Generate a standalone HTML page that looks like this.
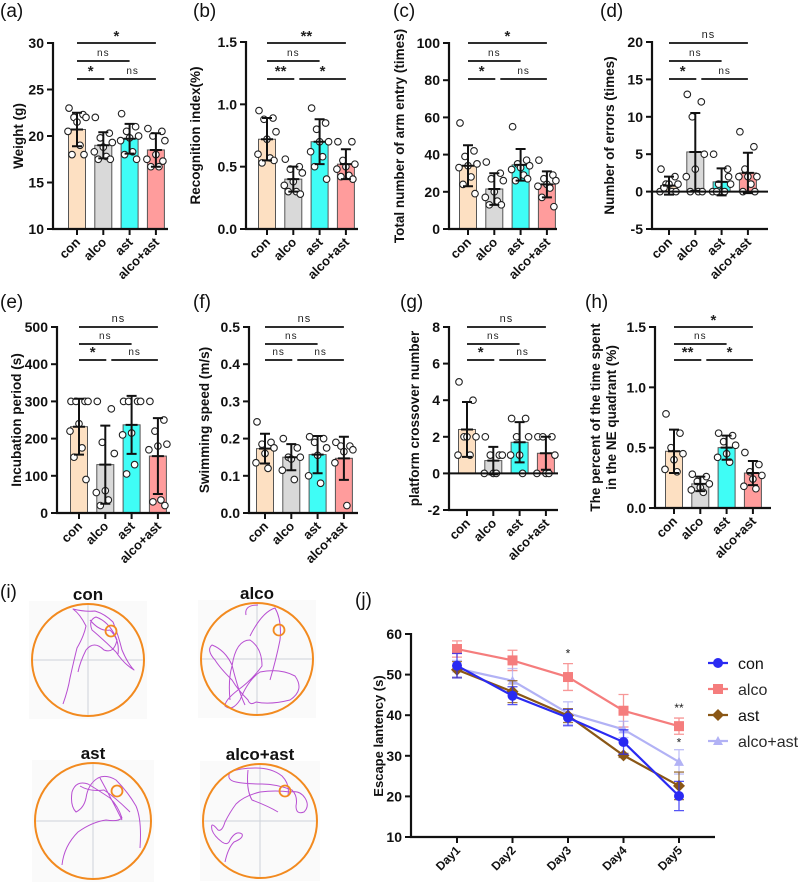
<!DOCTYPE html>
<html><head><meta charset="utf-8"><style>
html,body{margin:0;padding:0;background:#fff}
svg{display:block;font-family:"Liberation Sans",Arial,sans-serif}
</style></head><body>
<svg id="fig" width="800" height="886" viewBox="0 0 800 886" xmlns="http://www.w3.org/2000/svg"></svg>
<script>
const groups=["con","alco","ast","alco+ast"];
const colors=["#fde0c2","#d9d9d9","#3ffdf6","#ff9c9c"];
// panel a
const aMeans=[20.7,19.0,19.7,18.5];
const aSD=[1.8,1.4,1.6,1.8];
const aPts=[[23,22.3,22,22,21.5,20.5,19,18,18],[22,20.3,19.8,19.3,18.8,18.3,17.8,17.5,17.5],[22.4,21,20.5,20,19.8,19.5,18.3,18,17.5],[20.8,20.5,20,19.5,18,17.5,16.7,16.7,17.3]];
const aTicks=[10,15,20,25,30];
const aSig=["*","ns","*","ns"];
// panel b
const bMeans=[0.72,0.40,0.70,0.52];
const bSD=[0.17,0.10,0.18,0.12];
const bPts=[[0.95,0.89,0.88,0.78,0.72,0.6,0.57,0.53,0.55],[0.56,0.5,0.48,0.45,0.38,0.35,0.3,0.3,0.28],[0.97,0.85,0.8,0.7,0.7,0.62,0.58,0.5,0.4],[0.7,0.7,0.55,0.52,0.5,0.48,0.43,0.42,0.4]];
const bTicks=[0,0.5,1.0,1.5];
const bSig=["**","ns","**","*"];
// panel c
const cMeans=[34,21.5,34.5,24];
const cSD=[11,8.5,8.5,7];
const cPts=[[57,42,39,35,34,33,28,24,19],[36,30,27,26,20,17,15,13,13],[55,37,35,34,33,32,29,26,27],[37,29,27,26,24,23,22,17,12]];
const cTicks=[0,20,40,60,80,100];
const cSig=["*","ns","*","ns"];
// panel d
const dMeans=[0.8,5.3,1.3,2.5];
const dSD=[1.2,5.2,1.8,2.7];
const dPts=[[3,2,1,1,1,0,0,0.5,0],[13,12,10,5,3,2,0,0,0],[5,3,1,1,0,0,0,0,2],[8,6,3,2,2,2,1,0,0]];
const dTicks=[-5,0,5,10,15,20];
const dSig=["ns","ns","*","ns"];
// panel e
const eMeans=[232,130,237,153];
const eSD=[75,105,78,102];
const ePts=[[300,300,300,300,240,220,175,150,90],[300,280,190,160,60,55,35,20],[300,300,300,300,215,210,130,105],[300,250,220,185,180,170,35,30,20]];
const eTicks=[0,100,200,300,400,500];
const eSig=["ns","ns","*","ns"];
// panel f
const fMeans=[0.173,0.150,0.157,0.147];
const fSD=[0.04,0.035,0.05,0.058];
const fPts=[[0.245,0.19,0.185,0.175,0.16,0.135,0.12],[0.2,0.175,0.15,0.15,0.145,0.115,0.09],[0.205,0.2,0.19,0.175,0.155,0.1,0.08],[0.19,0.18,0.18,0.17,0.165,0.135,0.02]];
const fTicks=[0,0.1,0.2,0.3,0.4,0.5];
const fSig=["ns","ns","ns","ns"];
// panel g
const gMeans=[2.4,0.7,1.7,1.1];
const gSD=[1.5,0.75,1.1,0.9];
const gPts=[[5,4,2,2,2,1,1],[2,1,1,1,0,0,0],[3,3,2,2,1,1,0],[2,2,2,1,0,0,0]];
const gTicks=[-2,0,2,4,6,8];
const gSig=["ns","ns","*","ns"];
// panel h
const hMeans=[0.47,0.20,0.50,0.29];
const hSD=[0.18,0.06,0.10,0.10];
const hPts=[[0.78,0.62,0.5,0.45,0.4,0.32,0.3],[0.28,0.26,0.22,0.2,0.17,0.15,0.13],[0.62,0.6,0.55,0.52,0.45,0.42,0.38],[0.46,0.36,0.3,0.27,0.24,0.18,0.16]];
const hTicks=[0,0.5,1.0,1.5];
const hSig=["*","ns","**","*"];
// panel j
const days=["Day1","Day2","Day3","Day4","Day5"];
const jSeries=["con","alco","ast","alco+ast"];
const jCon=[52.2,44.8,39.4,33.4,20.1];
const jConErr=[3,2.2,2,3,3.6];
const jAlco=[56.3,53.5,49.4,41.1,37.3];
const jAlcoErr=[2,2.5,3.3,4,2];
const jAst=[51.2,45.8,39.9,30.1,22.6];
const jAstErr=[2,2.7,1.7,0.5,3.4];
const jAA=[51.5,48.5,40.5,36.5,28.5];
const jAAErr=[2,3,2.8,2,3];
const jTicks=[10,20,30,40,50,60];
const jStars=["","","*","","**"];
const jStars2=["","","","","*"];

const NS="http://www.w3.org/2000/svg";
const svg=document.getElementById("fig");
function el(tag,attrs,parent,text){const e=document.createElementNS(NS,tag);for(const k in attrs)e.setAttribute(k,attrs[k]);if(text!==undefined)e.textContent=text;(parent||svg).appendChild(e);return e;}
function fmt(v,ticks){return ticks.some(t=>!Number.isInteger(t))?v.toFixed(1):String(v);}
const jit=[-8,6,-3,9,0,-9,3,-5,7];

function barPanel(c){
  const g=el("g",{});
  
  
  const vmin=c.ticks[0],vmax=c.ticks[c.ticks.length-1];
  const y=v=>c.yBot-(v-vmin)/(vmax-vmin)*(c.yBot-c.yTop);
  const cx=i=>c.x0+c.off+i*26.3;
  const base=y(Math.max(0,vmin));
  for(let i=0;i<4;i++){
    const yt=y(c.means[i]);
    const r=el("rect",{x:cx(i)-8.5,y:Math.min(yt,base),width:17,height:Math.abs(base-yt),fill:colors[i],stroke:"#555","stroke-width":1},g);
    
    
  }
  for(let i=0;i<4;i++){
    c.pts[i].forEach((v,k)=>{
      const p=el("circle",{cx:cx(i)+jit[k%9],cy:y(v),r:3.3,fill:"#fff",stroke:"#222","stroke-width":1.1},g);
      
      
    });
  }
  for(let i=0;i<4;i++){
    const m=c.means[i],s=c.sds[i],x=cx(i);
    const e=el("path",{d:`M${x},${y(m-s)}V${y(m+s)}M${x-5},${y(m-s)}H${x+5}M${x-5},${y(m+s)}H${x+5}M${x-6},${y(m)}H${x+6}`,stroke:"#111","stroke-width":2,fill:"none"},g);
    
    
  }
  const ya=el("path",{d:`M${c.x0},${c.yTop-1}V${c.yBot}`,stroke:"#111","stroke-width":2.2,fill:"none"},g);
  
  
  const xa=el("path",{d:`M${c.x0-1},${c.yBot}H${c.xEnd}`,stroke:"#111","stroke-width":2.2,fill:"none"},g);
  
  
  if(vmin<0){
    const zl=el("path",{d:`M${c.x0},${base}H${c.xEnd}`,stroke:"#111","stroke-width":2,fill:"none"},g);
    
    
  }
  c.ticks.forEach(t=>{
    el("path",{d:`M${c.x0-6},${y(t)}H${c.x0}`,stroke:"#111","stroke-width":2},g);
    const tl=el("text",{x:c.x0-9,y:y(t)+5,"text-anchor":"end","font-size":14,"font-weight":"bold",fill:"#111"},g,fmt(t,c.ticks));
    
    
  });
  for(let i=0;i<4;i++){
    el("path",{d:`M${cx(i)},${c.yBot}V${c.yBot+6}`,stroke:"#111","stroke-width":2},g);
    const xl=el("text",{x:0,y:0,"text-anchor":"end","font-size":13,"font-weight":"bold",fill:"#111",transform:`translate(${cx(i)+4},${c.yBot+14}) rotate(-45)`},g,groups[i]);
    
    
  }
  c.ylabel.forEach((t,k)=>{
    const yl=el("text",{x:0,y:0,"text-anchor":"middle","font-size":13.5,"font-weight":"bold",fill:"#111",transform:`translate(${c.ylx+k*16},${c.yTop+(c.yBot-c.yTop)/2}) rotate(-90)`},g,t);
    
    
  });
  const sy=c.sigY;
  const lines=[[cx(0),cx(3),sy[0]],[cx(0),cx(2),sy[1]],[cx(0),cx(1)+1,sy[2]],[cx(1)+6,cx(3),sy[2]]];
  lines.forEach((L,k)=>{
    el("path",{d:`M${L[0]},${L[2]}H${L[1]}`,stroke:"#111","stroke-width":1.8},g);
    const lab=c.sig[k];const star=lab!=="ns";
    const mx=(L[0]+L[1])/2;
    const t=el("text",{x:mx,y:L[2]-(star?(k===0?2:3):5),"text-anchor":"middle","font-size":star?15:k===0?11:10,"font-weight":star?"bold":"normal","letter-spacing":star?0:1,fill:"#222"},g,lab);
    
    
  });
  const pl=el("text",{x:c.lx,y:c.ly,"font-size":19,fill:"#111"},g,c.letter);
  
  
}
const r1=[43,61,79], r2=[327,344,360];
barPanel({name:"panel-a-weight",x0:53,off:24,xEnd:168,yTop:43,yBot:229,ticks:aTicks,means:aMeans,sds:aSD,pts:aPts,sig:aSig,sigY:r1,ylabel:["Weight (g)"],ylx:23,letter:"(a)",lx:0,ly:17});
barPanel({name:"panel-b-recognition",x0:246,off:21,xEnd:358,yTop:42,yBot:229,ticks:bTicks,means:bMeans,sds:bSD,pts:bPts,sig:bSig,sigY:r1,ylabel:["Recognition index(%)"],ylx:200,letter:"(b)",lx:193,ly:17});
barPanel({name:"panel-c-arm-entry",x0:449,off:19,xEnd:557,yTop:43,yBot:229,ticks:cTicks,means:cMeans,sds:cSD,pts:cPts,sig:cSig,sigY:r1,ylabel:["Total number of arm entry (times)"],ylx:404,letter:"(c)",lx:393,ly:17});
barPanel({name:"panel-d-errors",x0:652,off:17,xEnd:768,yTop:42,yBot:229,ticks:dTicks,means:dMeans,sds:dSD,pts:dPts,sig:dSig,sigY:r1,ylabel:["Number of errors (times)"],ylx:614,letter:"(d)",lx:600,ly:17});
barPanel({name:"panel-e-incubation",x0:57,off:22,xEnd:170,yTop:327,yBot:513,ticks:eTicks,means:eMeans,sds:eSD,pts:ePts,sig:eSig,sigY:r2,ylabel:["Incubation period (s)"],ylx:21,letter:"(e)",lx:0,ly:308});
barPanel({name:"panel-f-speed",x0:249,off:16,xEnd:358,yTop:327,yBot:513,ticks:fTicks,means:fMeans,sds:fSD,pts:fPts,sig:fSig,sigY:r2,ylabel:["Swimming speed  (m/s)"],ylx:209,letter:"(f)",lx:193,ly:308});
barPanel({name:"panel-g-crossover",x0:449,off:18,xEnd:558,yTop:327,yBot:510,ticks:gTicks,means:gMeans,sds:gSD,pts:gPts,sig:gSig,sigY:r2,ylabel:["platform crossover number"],ylx:419,letter:"(g)",lx:400,ly:308});
barPanel({name:"panel-h-ne-quadrant",x0:655,off:19,xEnd:771,yTop:327,yBot:508,ticks:hTicks,means:hMeans,sds:hSD,pts:hPts,sig:hSig,sigY:r2,ylabel:["The percent of the time spent","in the NE quadrant (%)"],ylx:600,letter:"(h)",lx:585,ly:308});

const gi=el("g",{});


const il=el("text",{x:0,y:598,"font-size":19,fill:"#111"},gi,"(i)");


const pools=[
 {t:"con",cx:88,cy:660,r:56,px:111,py:631,tr:"M63,704 Q68,690 70,678 Q74,660 77,648 Q84,636 86,626 Q80,614 73,609 Q85,612 95,611 Q105,614 113,622 Q118,634 122,650 Q128,664 134,670 Q124,664 116,652 Q104,640 92,630 Q88,620 96,617 Q110,622 117,640 Q114,654 104,650 Q94,640 86,650 Q80,662 78,672 M90,620 Q100,632 110,630 Q120,640 118,654"},
 {t:"alco",cx:257,cy:659,r:56,px:279,py:630,tr:"M230,700 Q228,680 232,666 Q236,640 250,640 Q262,648 262,666 Q252,680 238,690 Q225,700 225,706 Q232,712 240,700 Q248,680 260,672 Q280,668 295,676 Q305,690 290,700 Q270,705 256,702 Q250,706 248,700 Q238,690 232,680 Q220,668 215,660 Q206,650 212,645 Q225,650 232,665 Q238,690 245,705 M250,636 Q262,612 275,608 Q282,620 280,640 Q276,660 270,680 M246,615 Q244,605 258,605"},
 {t:"ast",cx:93,cy:821,r:58,px:117,py:791,tr:"M62,865 Q64,846 78,832 Q92,822 106,820 Q118,822 122,818 Q118,806 110,798 Q98,790 88,784 Q76,780 72,792 Q70,806 76,812 Q84,808 86,798 Q88,784 98,778 Q106,774 116,780 Q128,792 136,806 Q142,820 140,848 M100,778 Q112,800 122,820 M80,786 Q90,792 104,790 Q116,798 130,812"},
 {t:"alco+ast",cx:260,cy:821,r:57,px:285,py:791,tr:"M225,862 Q228,848 234,842 Q244,838 242,834 Q236,830 230,840 Q228,846 222,842 Q214,836 212,830 Q210,820 218,830 Q222,832 225,822 Q230,812 236,804 Q244,796 260,792 Q276,790 290,792 Q300,790 305,798 Q310,806 304,812 Q296,815 296,806 Q298,796 292,790 Q276,784 262,784 Q246,784 236,782 Q226,780 230,772 Q240,768 256,768 Q272,768 282,776 Q290,784 288,795 M248,770 Q246,790 252,800 Q268,806 278,812"}
];
pools.forEach(p=>{
  const pg=el("g",{},gi);
  
  
  el("rect",{x:p.cx-p.r-3,y:p.cy-p.r-3,width:2*p.r+6,height:2*p.r+6,fill:"#fafafa"},pg);
  el("path",{d:`M${p.cx-p.r},${p.cy}H${p.cx+p.r}M${p.cx},${p.cy-p.r}V${p.cy+p.r}`,stroke:"#cfd3da","stroke-width":1},pg);
  const tr=el("path",{d:p.tr,stroke:"#b84fd2","stroke-width":1,fill:"none","stroke-linejoin":"round"},pg);
  
  
  el("circle",{cx:p.cx,cy:p.cy,r:p.r,fill:"none",stroke:"#f28a1f","stroke-width":2},pg);
  const pf=el("circle",{cx:p.px,cy:p.py,r:5.5,fill:"none",stroke:"#f28a1f","stroke-width":1.8},pg);
  
  
  const tt=el("text",{x:p.cx,y:p.cy-p.r-4,"text-anchor":"middle","font-size":17,"font-weight":"bold",fill:"#111"},pg,p.t);
  
  
});

const gj=el("g",{});


const jx0=411,jxEnd=715,jyTop=634,jyBot=837;
const jy=v=>jyBot-(v-10)/(60-10)*(jyBot-jyTop);
const jx=i=>457+i*55.5;
const jl=el("text",{x:355,y:606,"font-size":19,fill:"#111"},gj,"(j)");


const jData=[jCon,jAlco,jAst,jAA];
const jErr=[jConErr,jAlcoErr,jAstErr,jAAErr];
const jCol=["#2a2af2","#f47070","#8a5716","#aaaaf4"];
const jOp=[1,0.9,1,0.9];
function marker(s,x,y,p){
  let m;
  if(s===0)m=el("circle",{cx:x,cy:y,r:5,fill:jCol[0]},p);
  else if(s===1)m=el("rect",{x:x-5,y:y-5,width:10,height:10,fill:jCol[1]},p);
  else if(s===2)m=el("path",{d:`M${x},${y-6}L${x+6},${y}L${x},${y+6}L${x-6},${y}Z`,fill:jCol[2]},p);
  else m=el("path",{d:`M${x},${y-5}L${x+5},${y+4}L${x-5},${y+4}Z`,fill:jCol[3]},p);
  
  
}
[1,3,2,0].forEach(s=>{
  const sg=el("g",{opacity:jOp[s]},gj);
  
  
  jData[s].forEach((v,i)=>{
    const x=jx(i),e=jErr[s][i];
    el("path",{d:`M${x},${jy(v-e)}V${jy(v+e)}M${x-5},${jy(v-e)}H${x+5}M${x-5},${jy(v+e)}H${x+5}`,stroke:jCol[s],"stroke-width":1.3,fill:"none",opacity:0.8},sg);
  });
  const ln=el("polyline",{points:jData[s].map((v,i)=>jx(i)+","+jy(v)).join(" "),stroke:jCol[s],"stroke-width":2.2,fill:"none"},sg);
  
  
  jData[s].forEach((v,i)=>marker(s,jx(i),jy(v),sg));
});
jStars.forEach((s,i)=>{if(s){const t=el("text",{x:jx(i),y:jy(jAlco[i]+jAlcoErr[i])-6,"text-anchor":"middle","font-size":12,fill:"#222"},gj,s);}});
jStars2.forEach((s,i)=>{if(s){const t=el("text",{x:jx(i),y:jy(jAA[i]+jAAErr[i])-3,"text-anchor":"middle","font-size":12,fill:"#222"},gj,s);}});
const jya=el("path",{d:`M${jx0},${jyTop-1}V${jyBot}H${jxEnd}`,stroke:"#111","stroke-width":2.2,fill:"none"},gj);


jTicks.forEach(t=>{
  el("path",{d:`M${jx0-6},${jy(t)}H${jx0}`,stroke:"#111","stroke-width":2},gj);
  const tl=el("text",{x:jx0-9,y:jy(t)+5,"text-anchor":"end","font-size":14,"font-weight":"bold",fill:"#111"},gj,String(t));
  
  
});
days.forEach((d,i)=>{
  el("path",{d:`M${jx(i)},${jyBot}V${jyBot+6}`,stroke:"#111","stroke-width":2},gj);
  const xl=el("text",{x:0,y:0,"text-anchor":"end","font-size":12,"font-weight":"bold",fill:"#111",transform:`translate(${jx(i)+4},${jyBot+14}) rotate(-45)`},gj,d);
  
  
});
const jyl=el("text",{x:0,y:0,"text-anchor":"middle","font-size":13,"font-weight":"bold",fill:"#111",transform:`translate(383,736) rotate(-90)`},gj,"Escape lantency (s)");


jSeries.forEach((n,s)=>{
  const ly=663+s*26;
  const lg=el("g",{opacity:jOp[s]},gj);
  
  
  el("path",{d:`M708,${ly}H728`,stroke:jCol[s],"stroke-width":2.2},lg);
  marker(s,718,ly,lg);
  el("text",{x:738,y:ly+6,"font-size":16,fill:"#111"},lg,n);
});
</script>
</body></html>
